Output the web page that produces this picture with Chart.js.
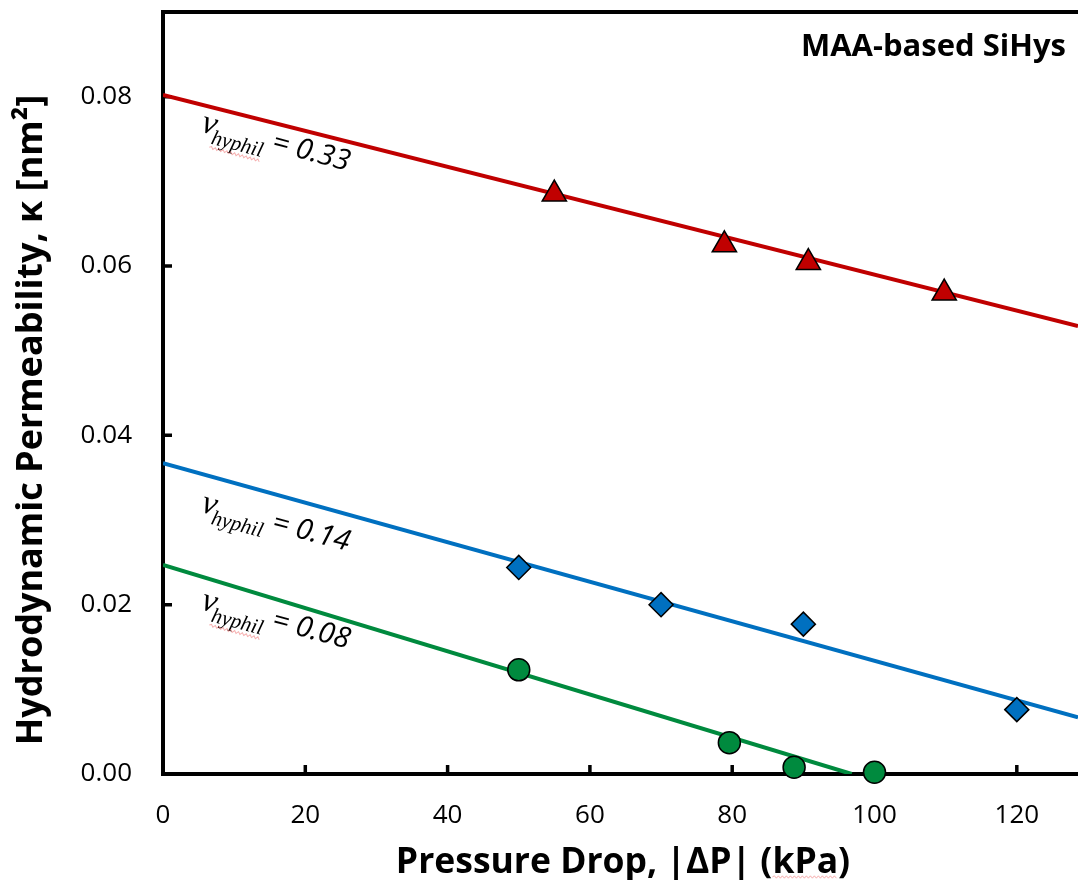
<!DOCTYPE html>
<html>
<head>
<meta charset="utf-8">
<script src="https://cdn.jsdelivr.net/npm/chart.js@4.4.1/dist/chart.umd.min.js"></script>
<style>
    html, body { margin: 0; padding: 0; background: #fff; overflow: hidden; }
    canvas { display: block; }
</style>
</head>
<body>
<canvas id="chart_permeabilidad" width="1078" height="880"></canvas>
<script>
// medidas: presion (kPa) y permeabilidad (nm2)
var presionRojo = [55, 78.9, 90.7, 109.8];
var kappaRojo = [0.0685, 0.0625, 0.0604, 0.0568];
var presionAzul = [50, 70, 90, 120];
var kappaAzul = [0.0244, 0.0200, 0.0177, 0.0076];
var presionVerde = [50, 79.6, 88.7, 100];
var kappaVerde = [0.0123, 0.0037, 0.0008, 0.0002];

// rectas de ajuste (extremos)
var ajusteXRojo = [0, 128.6];
var ajusteYRojo = [0.0802, 0.0529];
var ajusteXAzul = [0, 128.6];
var ajusteYAzul = [0.0367, 0.0067];
var ajusteXVerde = [0, 96.8];
var ajusteYVerde = [0.0247, 0.0];

var fracciones = ['0.33', '0.14', '0.08'];

var rojo = '#C00000', azul = '#0070C0', verde = '#008A3E';

function puntos(xs, ys) {
    return xs.map(function(x, i) { return { x: x, y: ys[i] }; });
}

function garabato(ctx, x0, x1, y) {
    // subrayado ondulado tenue
    ctx.save();
    ctx.strokeStyle = 'rgba(235,80,80,0.45)';
    ctx.lineWidth = 1;
    ctx.beginPath();
    ctx.moveTo(x0, y);
    var sube = true;
    for (var x = x0 + 2; x <= x1; x += 2) {
        ctx.lineTo(x, y + (sube ? -1.2 : 1.2));
        sube = !sube;
    }
    ctx.stroke();
    ctx.restore();
}

function sinRelleno(scale) {
    scale.paddingLeft = 0;
    scale.paddingRight = 0;
    scale.paddingTop = 0;
    scale.paddingBottom = 0;
}

var etiquetas = [
    { serie: 0, xDato: 5.2, bajada: 27, garabato: true },
    { serie: 1, xDato: 5.2, bajada: 38, garabato: false },
    { serie: 2, xDato: 5.2, bajada: 33, garabato: true }
];

var extras = {
    id: 'extras',
    beforeDatasetsDraw: function(chart) {
        var ctx = chart.ctx, a = chart.chartArea;
        var sx = chart.scales.x, sy = chart.scales.y;
        ctx.save();
        ctx.strokeStyle = '#000';
        ctx.lineWidth = 4;
        ctx.lineCap = 'butt';
        // ejes
        ctx.beginPath();
        ctx.moveTo(a.left, a.top - 2);
        ctx.lineTo(a.left, a.bottom + 2);
        ctx.moveTo(a.left - 2, a.bottom);
        ctx.lineTo(a.right, a.bottom);
        ctx.moveTo(a.left - 2, a.top);
        ctx.lineTo(a.right, a.top);
        ctx.stroke();
        // marcas hacia dentro
        ctx.lineWidth = 3.5;
        ctx.beginPath();
        sx.ticks.forEach(function(t) {
            if (t.value === 0) return;
            var px = sx.getPixelForValue(t.value);
            ctx.moveTo(px, a.bottom);
            ctx.lineTo(px, a.bottom - 9);
        });
        sy.ticks.forEach(function(t) {
            if (t.value === 0) return;
            var py = sy.getPixelForValue(t.value);
            ctx.moveTo(a.left, py);
            ctx.lineTo(a.left + 9, py);
        });
        ctx.stroke();
        ctx.restore();
    },
    afterDatasetsDraw: function(chart) {
        var ctx = chart.ctx, a = chart.chartArea;
        var sx = chart.scales.x, sy = chart.scales.y;
        var rectas = [[ajusteXRojo, ajusteYRojo], [ajusteXAzul, ajusteYAzul], [ajusteXVerde, ajusteYVerde]];
        ctx.save();
        ctx.fillStyle = '#000';
        ctx.textBaseline = 'alphabetic';
        ctx.textAlign = 'left';
        etiquetas.forEach(function(e, i) {
            var r = rectas[e.serie];
            var t = (e.xDato - r[0][0]) / (r[0][1] - r[0][0]);
            var yLinea = r[1][0] + t * (r[1][1] - r[1][0]);
            var px = sx.getPixelForValue(e.xDato);
            var py = sy.getPixelForValue(yLinea) + e.bajada;
            ctx.save();
            ctx.translate(px, py);
            ctx.rotate(15 * Math.PI / 180);
            ctx.font = 'italic 34px "Liberation Serif"';
            ctx.fillText('\u03bd', 0, 0);
            var x = ctx.measureText('\u03bd').width - 2;
            ctx.font = 'italic 21px "Liberation Serif"';
            ctx.fillText('hyphil', x, 9);
            var w = ctx.measureText('hyphil').width;
            if (e.garabato) garabato(ctx, x, x + w, 13);
            x += w;
            ctx.font = 'italic 29px "Open Sans"';
            ctx.fillText(' = ' + fracciones[i], x, 0);
            ctx.restore();
        });

        // titulo interior
        ctx.font = 'bold 31px "Open Sans"';
        ctx.textAlign = 'right';
        ctx.fillText('MAA-based SiHys', a.right - 12, 56);

        // titulos de ejes
        ctx.textAlign = 'center';
        ctx.font = 'bold 35.5px "Open Sans"';
        var tx = 'Pressure Drop, |\u0394P| (kPa)';
        var cx = 623;
        ctx.fillText(tx, cx, 873);
        var total = ctx.measureText(tx).width;
        var ini = cx - total / 2 + ctx.measureText('Pressure Drop, |\u0394P| (').width;
        garabato(ctx, ini, ini + ctx.measureText('kPa').width, 877);

        ctx.font = 'bold 36px "Open Sans"';
        ctx.save();
        ctx.translate(42, 420);
        ctx.rotate(-Math.PI / 2);
        ctx.fillText('Hydrodynamic Permeability, \u03ba [nm\u00b2]', 0, 0);
        ctx.restore();
        ctx.restore();
    }
};

var canvas = document.getElementById('chart_permeabilidad').getContext('2d');
window.grafico = new Chart(canvas, {
    type: 'scatter',
    data: {
        datasets: [{
                label: 'ajuste 0.33',
                data: puntos(ajusteXRojo, ajusteYRojo),
                showLine: true,
                borderColor: rojo,
                borderWidth: 4,
                pointRadius: 0,
                order: 2
            }, {
                label: 'ajuste 0.14',
                data: puntos(ajusteXAzul, ajusteYAzul),
                showLine: true,
                borderColor: azul,
                borderWidth: 4,
                pointRadius: 0,
                order: 2
            }, {
                label: 'ajuste 0.08',
                data: puntos(ajusteXVerde, ajusteYVerde),
                showLine: true,
                borderColor: verde,
                borderWidth: 4,
                pointRadius: 0,
                order: 2
            }, {
                label: 'v 0.33',
                data: puntos(presionRojo, kappaRojo),
                pointStyle: 'triangle',
                pointRadius: 14,
                backgroundColor: rojo,
                borderColor: '#000',
                borderWidth: 1.5,
                clip: false,
                order: 1
            }, {
                label: 'v 0.14',
                data: puntos(presionAzul, kappaAzul),
                pointStyle: 'rectRot',
                pointRadius: 12,
                backgroundColor: azul,
                borderColor: '#000',
                borderWidth: 1.5,
                clip: false,
                order: 1
            }, {
                label: 'v 0.08',
                data: puntos(presionVerde, kappaVerde),
                pointStyle: 'circle',
                pointRadius: 11,
                backgroundColor: verde,
                borderColor: '#000',
                borderWidth: 1.5,
                clip: false,
                order: 1
            }]
    },
    options: {
        responsive: false,
        animation: false,
        layout: {
            autoPadding: false,
            padding: { top: 12, left: 0, right: 0, bottom: 0 }
        },
        plugins: {
            legend: { display: false },
            tooltip: { enabled: false }
        },
        scales: {
            x: {
                type: 'linear',
                min: 0,
                max: 128.6,
                grid: { display: false, drawTicks: false },
                border: { display: false },
                ticks: {
                    stepSize: 20,
                    includeBounds: false,
                    maxRotation: 0,
                    padding: 26,
                    color: '#000',
                    font: { family: 'Open Sans', size: 26 }
                },
                afterFit: function(scale) {
                    scale.height = 106;
                    sinRelleno(scale);
                }
            },
            y: {
                type: 'linear',
                min: 0,
                max: 0.09,
                grid: { display: false, drawTicks: false },
                border: { display: false },
                ticks: {
                    stepSize: 0.02,
                    includeBounds: false,
                    padding: 31,
                    color: '#000',
                    font: { family: 'Open Sans', size: 26 },
                    callback: function(v) { return v.toFixed(2); }
                },
                afterFit: function(scale) {
                    scale.width = 163;
                    sinRelleno(scale);
                }
            }
        }
    },
    plugins: [extras]
});
</script>
</body>
</html>
